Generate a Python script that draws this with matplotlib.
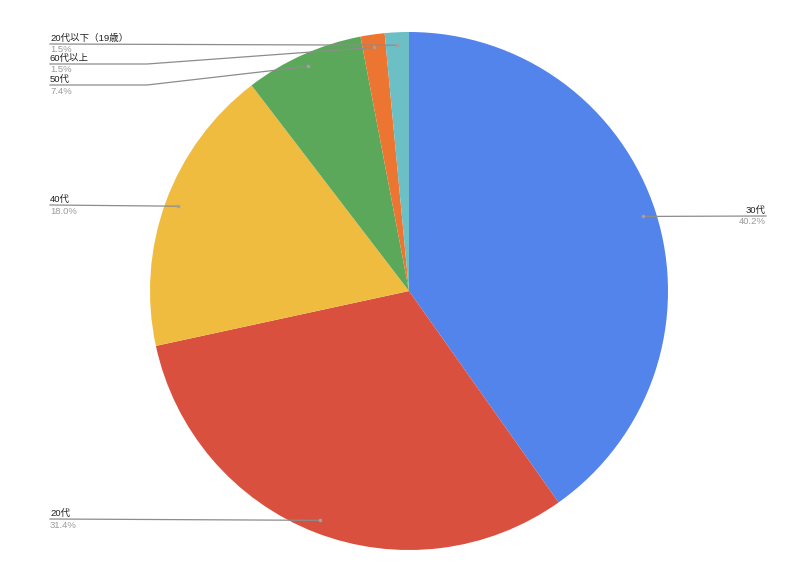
import numpy as np
import matplotlib
matplotlib.use("Agg")
import matplotlib.pyplot as plt

plt.rcParams['font.family'] = ['Liberation Sans', 'Noto Sans CJK JP', 'DejaVu Sans']

labels = ['30代', '20代', '40代', '50代', '60代以上', '20代以下（19歳）']
values = [40.2, 31.4, 18.0, 7.4, 1.5, 1.5]
pct_labels = ['40.2%', '31.4%', '18.0%', '7.4%', '1.5%', '1.5%']
colors = ['#5384EB', '#D9503F', '#F0BC40', '#5BA85A', '#EC7531', '#6CBFC5']

W, H = 796, 575
fig = plt.figure(figsize=(W / 100, H / 100), dpi=100)
ax = fig.add_axes([0, 0, 1, 1])

cx, cy, R = 409, H - 291, 259
wedges, _ = ax.pie(values, colors=colors, startangle=90, counterclock=False,
                   center=(cx, cy), radius=R, frame=True,
                   wedgeprops=dict(linewidth=0))
ax.set_xlim(0, W)
ax.set_ylim(0, H)
ax.set_aspect('equal')
ax.axis('off')

# leader line anchor for text (x, y from top), optional elbow x, alignment
layout = {
    '30代': (766, 216, None, 'right'),
    '20代': (50, 519, None, 'left'),
    '40代': (50, 205, None, 'left'),
    '50代': (50, 85, 147, 'left'),
    '60代以上': (50, 64, 147, 'left'),
    '20代以下（19歳）': (50, 44, None, 'left'),
}

for w, lab, pct in zip(wedges, labels, pct_labels):
    ang = np.deg2rad((w.theta1 + w.theta2) / 2)
    px = cx + 0.95 * R * np.cos(ang)
    py = cy + 0.95 * R * np.sin(ang)
    tx, ty, ex, ha = layout[lab]
    ty = H - ty
    if ex is None:
        xs, ys = [tx, px], [ty, py]
    else:
        xs, ys = [tx, ex, px], [ty, ty, py]
    ax.plot(xs, ys, color='#8c8c8c', lw=0.9, zorder=5)
    ax.plot([px], [py], 'o', ms=1.6, color='#a0a0a0', zorder=6)
    ax.text(tx, ty + 1.5, lab, ha=ha, va='bottom', fontsize=6.8, color='#222222')
    ax.text(tx, ty - 1.5, pct, ha=ha, va='top', fontsize=6.8, color='#9a9a9a',
            family=['Liberation Sans', 'DejaVu Sans'])

fig.savefig('out.png', dpi=100, facecolor='white')
